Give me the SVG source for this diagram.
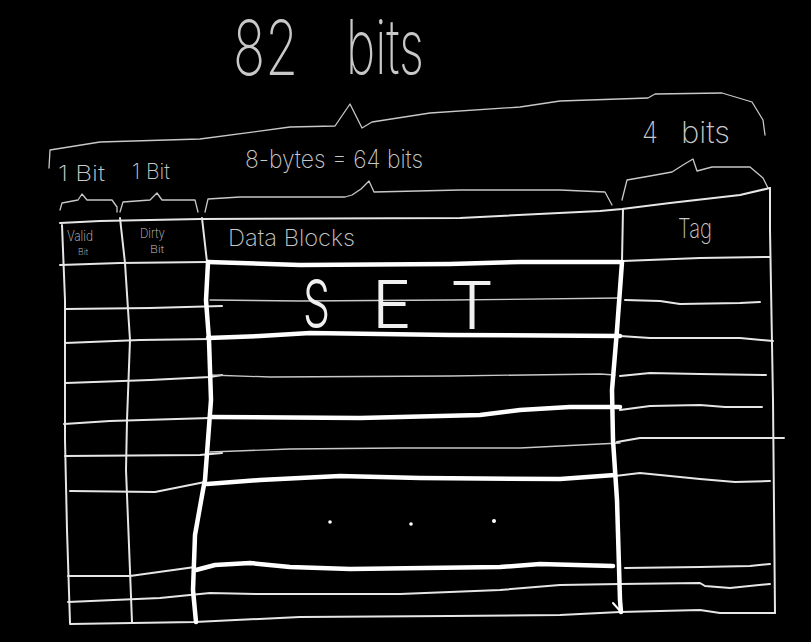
<svg xmlns="http://www.w3.org/2000/svg" width="811" height="642" viewBox="0 0 811 642">
<style>
.thin{fill:none;stroke:#c8c8c8;stroke-width:1.3;stroke-linecap:round;stroke-linejoin:round}
.grid{fill:none;stroke:#e6e6e6;stroke-width:2;stroke-linecap:round;stroke-linejoin:round}
.thick{fill:none;stroke:#ffffff;stroke-width:4.5;stroke-linecap:round;stroke-linejoin:round}
.hw{font-family:Inter,"Liberation Sans",sans-serif;font-weight:200;fill:#c8c8c8}
.hw2{font-family:Inter,"Liberation Sans",sans-serif;font-weight:300;fill:#f0f0f0}
</style>
<rect width="811" height="642" fill="#000"/>
<g id="labels">
<text class="hw" x="233" y="75" font-size="76" textLength="65" lengthAdjust="spacingAndGlyphs">82</text>
<text class="hw" x="346" y="74" font-size="76" textLength="78" lengthAdjust="spacingAndGlyphs">bits</text>
<text class="hw" x="58" y="181" font-size="22" textLength="47" lengthAdjust="spacingAndGlyphs">1 Bit</text>
<text class="hw" x="132" y="179" font-size="22" textLength="38" lengthAdjust="spacingAndGlyphs">1 Bit</text>
<text class="hw" x="245" y="168" font-size="25" textLength="178" lengthAdjust="spacingAndGlyphs">8-bytes = 64 bits</text>
<text class="hw" x="642" y="143" font-size="30" textLength="16" lengthAdjust="spacingAndGlyphs">4</text>
<text class="hw" x="681" y="143" font-size="30" textLength="49" lengthAdjust="spacingAndGlyphs">bits</text>
</g>
<g id="braces">
<polyline class="thin" points="49,168 50,150 100,142 200,139 290,127 335,126 350,104 362,128 372,122 430,113 520,107 560,101 648,98 655,94 722,93 752,102 763,120 765,135"/>
<polyline class="thin" points="60,210 62,203 78,200 82,194 87,200 112,200 117,207 117,212"/>
<polyline class="thin" points="120,212 123,202 150,200 157,193 162,200 195,200 198,212"/>
<polyline class="thin" points="205,212 208,199 240,197 345,197 352,195 361,189 369,181 374,192 460,190 560,190 605,192 612,205"/>
<polyline class="thin" points="622,200 627,180 650,176 672,172 683,165 693,159 697,171 712,167 750,167 763,178 768,188"/>
</g>
<g id="table">
<polyline class="grid" points="60,223 100,221 200,219 460,218 600,211 622,209 670,203 740,195 770,188"/>
<polyline class="grid" points="770,188 770,230 773,400 775,613"/>
<polyline class="grid" points="62,225 65,300 65,440 67,530 70,623"/>
<polyline class="grid" points="120,218 125,263 130,340 127,420 126,470 128,520 132,622"/>
<polyline class="grid" points="202,218 207,262"/>
<polyline class="grid" points="623,209 622,262"/>
<polyline class="grid" points="70,624 195,622 300,617 450,616 560,615 620,612 700,610 720,613 775,613"/>
<polyline class="grid" points="60,265 120,263 207,262"/>
<polyline class="grid" points="65,309 150,308 222,306"/>
<polyline class="grid" points="65,343 140,340 210,339"/>
<polyline class="grid" points="66,383 150,380 210,377 222,375"/>
<polyline class="grid" points="64,424 110,421 210,418"/>
<polyline class="grid" points="65,456 200,455 222,453"/>
<polyline class="grid" points="70,491 155,492 205,482"/>
<polyline class="grid" points="68,576 130,576 195,567"/>
<polyline class="grid" points="68,602 160,598 210,593 260,594 400,594 500,590 560,585 620,584 700,583 705,586 730,588 770,584"/>
<polyline class="thin" points="210,300 300,301 450,300 620,298"/>
<polyline class="thin" points="210,375 270,377 450,376 600,374 615,375"/>
<polyline class="thin" points="210,452 290,449 400,448 520,448 620,443"/>
<polyline class="grid" points="623,261 700,258 770,257"/>
<polyline class="grid" points="625,300 660,301 680,304 740,303 760,302"/>
<polyline class="grid" points="620,336 650,338 740,338 773,341"/>
<polyline class="grid" points="620,376 650,373 700,374 766,375"/>
<polyline class="grid" points="620,410 650,406 700,405 725,407 762,407"/>
<polyline class="grid" points="617,442 640,438 700,438 784,438"/>
<polyline class="grid" points="615,476 640,473 700,479 735,482 770,481"/>
<polyline class="grid" points="625,568 700,567 750,566 770,564"/>
</g>
<g id="set-block">
<polyline class="thick" points="208,262 300,265 450,264 520,262 620,262"/>
<polyline class="thick" points="208,338 260,336 310,333 450,335 620,336"/>
<polyline class="thick" points="210,417 360,418 480,415 520,410 570,407 620,407"/>
<polyline class="thick" points="207,484 260,480 340,476 420,478 560,479 615,475"/>
<polyline class="thick" points="196,570 215,565 250,563 290,567 350,569 500,567 540,564 613,566"/>
<polyline class="thick" points="208,262 206,300 209,340 211,400 208,440 205,480 203,490 195,535 193,590 196,622"/>
<polyline class="thick" points="622,262 617,330 612,390 613,440 615,470 617,500 620,600 621,612"/>
<polyline class="thick" points="613,603 621,612" style="stroke-width:2"/>
<text class="hw2" x="303" y="327" font-size="66" textLength="27" lengthAdjust="spacingAndGlyphs">S</text>
<text class="hw2" x="372" y="328" font-size="66" textLength="40" lengthAdjust="spacingAndGlyphs">E</text>
<text class="hw2" x="450" y="329" font-size="66" textLength="44" lengthAdjust="spacingAndGlyphs">T</text>
<circle cx="330" cy="522" r="1.8" fill="#fff"/>
<circle cx="411" cy="524" r="1.8" fill="#fff"/>
<circle cx="494" cy="521" r="2" fill="#fff"/>
</g>
<g id="headers">
<text class="hw" x="67" y="241" font-size="14" textLength="26" lengthAdjust="spacingAndGlyphs">Valid</text>
<text class="hw" x="78" y="255" font-size="9" textLength="10" lengthAdjust="spacingAndGlyphs">Bit</text>
<text class="hw" x="140" y="238" font-size="13" textLength="25" lengthAdjust="spacingAndGlyphs">Dirty</text>
<text class="hw" x="150" y="253" font-size="10" textLength="14" lengthAdjust="spacingAndGlyphs">Bit</text>
<text class="hw" x="228" y="246" font-size="23" textLength="127" lengthAdjust="spacingAndGlyphs">Data Blocks</text>
<text class="hw" x="678" y="238" font-size="27" textLength="34" lengthAdjust="spacingAndGlyphs">Tag</text>
</g>
</svg>
